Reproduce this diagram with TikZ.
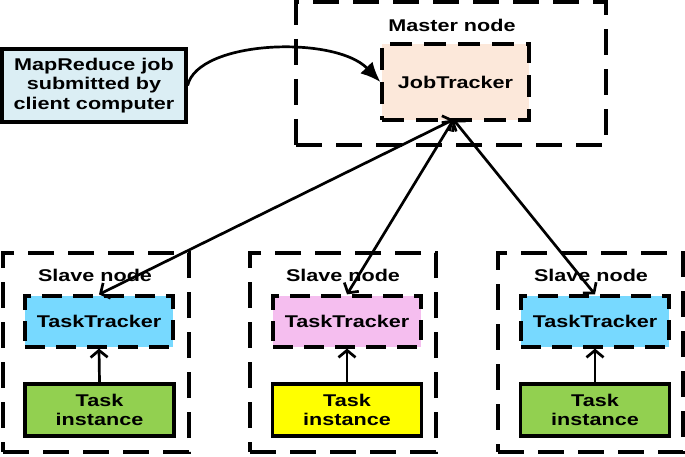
\documentclass[tikz,border=0pt]{standalone}
\usepackage{fontspec}
\setmainfont{Liberation Sans}[FakeStretch=1.27]
\usetikzlibrary{arrows.meta}
\definecolor{clientfill}{HTML}{DBEEF4}
\definecolor{jtfill}{HTML}{FCE8DA}
\definecolor{ttblue}{HTML}{77D9FF}
\definecolor{ttpink}{HTML}{F5BEEF}
\definecolor{tigreen}{HTML}{92D050}
\definecolor{tiyellow}{HTML}{FFFF00}
\tikzset{
  outerbox/.style={draw, line width=3.3pt, dash pattern=on 26pt off 14pt, minimum width=#1, minimum height=199pt, inner sep=0pt},
  ttbox/.style={draw, line width=3.2pt, dash pattern=on 20pt off 11pt, fill=#1, minimum width=148pt, minimum height=51pt, inner sep=0pt},
  tibox/.style={draw, line width=3.3pt, fill=#1, minimum width=149pt, minimum height=52pt, inner sep=0pt, align=center},
  lbl/.style={font=\fontsize{17}{19.5}\selectfont\bfseries, align=center},
  link/.style={line width=2.7pt, {Straight Barb[length=7pt,width=17pt]}-{Straight Barb[length=7pt,width=17pt]}},
  uplink/.style={line width=2.7pt, -{Straight Barb[length=7pt,width=17pt]}},
}
\begin{document}
\begin{tikzpicture}[x=1pt,y=-1pt, every node/.append style={lbl}]
\useasboundingbox (0,0) rectangle (685,457);
% master
\node[draw, line width=3.3pt, dash pattern=on 26pt off 14pt, minimum width=310pt, minimum height=143pt, inner sep=0pt] (master) at (451,73.5) {};
\node (masterlbl) at (452,25) {Master node};
\node[draw, line width=3.2pt, dash pattern=on 22pt off 12pt, fill=jtfill, minimum width=147pt, minimum height=76pt, inner sep=0pt] (jt) at (455.5,82) {JobTracker};
% client
\node[draw, line width=3.3pt, fill=clientfill, minimum width=184pt, minimum height=73pt, inner sep=0pt] (client) at (94,85.5) {MapReduce job\\submitted by\\client computer};
\draw[line width=2.7pt, -{Latex[length=20pt,width=17pt]}] (client.east) .. controls (198,40) and (335,35) .. (jt.west);
% slaves
\node[outerbox=186pt] (s1) at (96,352.5) {};
\node[outerbox=186pt] (s2) at (343,352.5) {};
\node[outerbox=185pt] (s3) at (590.5,352.5) {};
\node (s1lbl) at (95,275) {Slave node};
\node (s2lbl) at (343,275) {Slave node};
\node (s3lbl) at (591,275) {Slave node};
\node[ttbox=ttblue] (tt1) at (99,321.5) {TaskTracker};
\node[ttbox=ttpink] (tt2) at (347,321.5) {TaskTracker};
\node[ttbox=ttblue] (tt3) at (595,321.5) {TaskTracker};
\node[tibox=tigreen] (ti1) at (99.5,410) {Task\\instance};
\node[tibox=tiyellow] (ti2) at (347,410) {Task\\instance};
\node[tibox=tigreen] (ti3) at (595,410) {Task\\instance};
\coordinate (jtb) at ([xshift=-2pt,yshift=2pt]jt.south);
\draw[link] (jtb) -- (tt1.north);
\draw[link] (jtb) -- (tt2.north);
\draw[link] (jtb) -- (tt3.north);
\draw[uplink] (ti1.north) -- (tt1.south);
\draw[uplink] (ti2.north) -- (tt2.south);
\draw[uplink] (ti3.north) -- (tt3.south);
\end{tikzpicture}
\end{document}
